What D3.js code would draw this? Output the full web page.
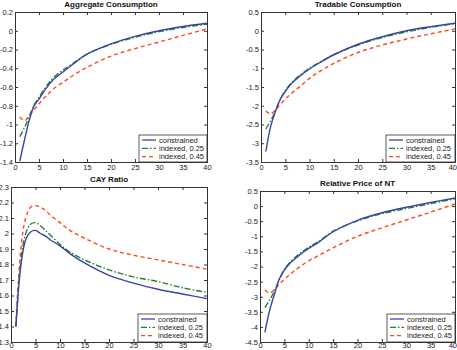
<!DOCTYPE html>
<html>
<head>
<meta charset="utf-8">
<script src="https://cdn.jsdelivr.net/npm/d3@7"></script>
<style>
  body { margin: 0; background: #fff; }
  svg { font-family: "Liberation Sans", Arial, sans-serif; }
  .tick text { font-size: 7.5px; fill: #222; }
  .title { font-size: 8px; font-weight: bold; fill: #111; }
  .leg text { font-size: 7.5px; fill: #222; }
</style>
</head>
<body>
<svg id="chart" width="457" height="350"></svg>
<script>
// horizon (quarters)
var periods = [1, 2, 3, 4, 5, 6, 7, 8, 10, 12, 15, 20, 25, 30, 35, 40];

var series_names = ["constrained", "indexed, 0.25", "indexed, 0.45"];

// Aggregate Consumption
var agg_constrained = [-1.39, -1.16, -0.95, -0.80, -0.73, -0.65, -0.58, -0.52, -0.44, -0.36, -0.25, -0.14, -0.06, 0.0, 0.045, 0.08];
var agg_indexed25   = [-1.13, -1.03, -0.91, -0.79, -0.71, -0.63, -0.56, -0.50, -0.42, -0.35, -0.25, -0.145, -0.07, -0.01, 0.035, 0.07];
var agg_indexed45   = [-0.92, -0.96, -0.90, -0.84, -0.78, -0.72, -0.67, -0.62, -0.55, -0.48, -0.39, -0.27, -0.19, -0.12, -0.05, 0.02];

// Tradable Consumption
var trd_constrained = [-3.22, -2.55, -2.14, -1.82, -1.62, -1.45, -1.32, -1.21, -1.02, -0.86, -0.64, -0.36, -0.16, 0.0, 0.11, 0.20];
var trd_indexed25   = [-2.62, -2.40, -2.14, -1.82, -1.60, -1.43, -1.30, -1.19, -1.00, -0.85, -0.64, -0.38, -0.18, -0.03, 0.09, 0.19];
var trd_indexed45   = [-2.14, -2.22, -2.10, -1.96, -1.82, -1.70, -1.59, -1.49, -1.27, -1.09, -0.87, -0.58, -0.38, -0.22, -0.08, 0.05];

// CAY Ratio
var cay_constrained = [1.40, 1.79, 1.96, 2.01, 2.02, 2.00, 1.985, 1.96, 1.92, 1.87, 1.81, 1.73, 1.68, 1.64, 1.61, 1.58];
var cay_indexed25   = [1.40, 1.82, 2.00, 2.06, 2.07, 2.05, 2.02, 1.99, 1.93, 1.88, 1.83, 1.765, 1.72, 1.69, 1.65, 1.62];
var cay_indexed45   = [1.40, 1.90, 2.10, 2.17, 2.18, 2.17, 2.15, 2.12, 2.07, 2.02, 1.97, 1.90, 1.86, 1.83, 1.80, 1.77];

// Relative Price of NT
var rp_constrained = [-4.18, -3.44, -2.90, -2.40, -2.12, -1.92, -1.77, -1.63, -1.40, -1.20, -0.85, -0.47, -0.22, -0.04, 0.12, 0.27];
var rp_indexed25   = [-3.36, -3.10, -2.80, -2.42, -2.10, -1.88, -1.73, -1.59, -1.36, -1.17, -0.83, -0.49, -0.25, -0.08, 0.08, 0.24];
var rp_indexed45   = [-2.78, -2.88, -2.75, -2.58, -2.42, -2.28, -2.15, -2.03, -1.81, -1.64, -1.38, -1.00, -0.72, -0.46, -0.20, 0.07];

var x_ticks = [0, 5, 10, 15, 20, 25, 30, 35, 40];

var line_colors = ["#3a44a8", "#23822f", "#ff4a1c"],
    line_dash = ["none", "6,2,1.5,2", "4,3"];

var panels = [
  { title: "Aggregate Consumption", box: [15, 12, 207, 162], ydom: [-1.4, 0.2], ystep: 0.2,
    data: [agg_constrained, agg_indexed25, agg_indexed45], leg: [139, 135] },
  { title: "Tradable Consumption", box: [261, 12, 455, 162], ydom: [-3.5, 0.5], ystep: 0.5,
    data: [trd_constrained, trd_indexed25, trd_indexed45], leg: [386, 135] },
  { title: "CAY Ratio", box: [11, 187, 207, 342], ydom: [1.3, 2.3], ystep: 0.1,
    data: [cay_constrained, cay_indexed25, cay_indexed45], leg: [138, 314] },
  { title: "Relative Price of NT", box: [260, 191, 455, 342], ydom: [-4.5, 0.5], ystep: 0.5,
    data: [rp_constrained, rp_indexed25, rp_indexed45], leg: [387, 314] }
];

var svg = d3.select("#chart");

function fmt(d){ return String(+d.toFixed(2)); }

panels.forEach(function(p){
  var x0 = p.box[0], y0 = p.box[1], x1 = p.box[2], y1 = p.box[3];
  var xs = d3.scaleLinear().domain([0, 40]).range([x0, x1]);
  var ys = d3.scaleLinear().domain(p.ydom).range([y1, y0]);
  var n = Math.round((p.ydom[1] - p.ydom[0]) / p.ystep);
  var yticks = d3.range(n + 1).map(function(i){ return +(p.ydom[0] + i * p.ystep).toFixed(2); });

  var g = svg.append("g");

  // bottom axis, inward ticks (less room under the lower row)
  var xb = g.append("g").attr("transform", "translate(0," + y1 + ")")
    .call(d3.axisBottom(xs).tickValues(x_ticks).tickSize(-3)
      .tickPadding(y1 > 300 ? 0.8 : 2.5).tickFormat(fmt));
  // keep the last label inside the page
  xb.selectAll(".tick text").filter(function(d){ return xs(d) + 5 > 457; })
    .attr("text-anchor", "end").attr("dx", "1.5");
  // top axis ticks, no labels
  g.append("g").attr("transform", "translate(0," + y0 + ")")
    .call(d3.axisTop(xs).tickValues(x_ticks).tickSize(-3).tickFormat(""));
  // left axis
  g.append("g").attr("transform", "translate(" + x0 + ",0)")
    .call(d3.axisLeft(ys).tickValues(yticks).tickSize(-3).tickPadding(2).tickFormat(fmt));
  // right axis ticks
  g.append("g").attr("transform", "translate(" + x1 + ",0)")
    .call(d3.axisRight(ys).tickValues(yticks).tickSize(-3).tickFormat(""));

  g.selectAll(".domain").attr("stroke", "#333").attr("stroke-width", 1);
  g.selectAll(".tick line").attr("stroke", "#333");

  g.append("text").attr("class", "title")
    .attr("x", (x0 + x1) / 2).attr("y", y0 - 5)
    .attr("text-anchor", "middle").text(p.title);

  var line = d3.line()
    .x(function(d){ return xs(d[0]); })
    .y(function(d){ return ys(d[1]); })
    .curve(d3.curveCatmullRom.alpha(0.5));

  // draw in reverse so constrained sits on top
  [2, 1, 0].forEach(function(k){
    g.append("path")
      .datum(periods.map(function(t, i){ return [t, p.data[k][i]]; }))
      .attr("fill", "none")
      .attr("stroke", line_colors[k])
      .attr("stroke-width", 1.4)
      .attr("stroke-dasharray", line_dash[k])
      .attr("d", line);
  });

  // legend
  var lg = g.append("g").attr("class", "leg");
  var lx = p.leg[0], ly = p.leg[1];
  lg.append("rect").attr("x", lx).attr("y", ly)
    .attr("width", x1 - lx).attr("height", y1 - ly)
    .attr("fill", "#fff").attr("stroke", "#333").attr("stroke-width", 0.8);
  series_names.forEach(function(name, k){
    var yy = ly + 5 + k * 8.3;
    lg.append("line").attr("x1", lx + 3).attr("x2", lx + 17).attr("y1", yy).attr("y2", yy)
      .attr("stroke", line_colors[k]).attr("stroke-width", 1.3)
      .attr("stroke-dasharray", line_dash[k]);
    lg.append("text").attr("x", lx + 20).attr("y", yy + 2.7).text(name);
  });
});
</script>
</body>
</html>
